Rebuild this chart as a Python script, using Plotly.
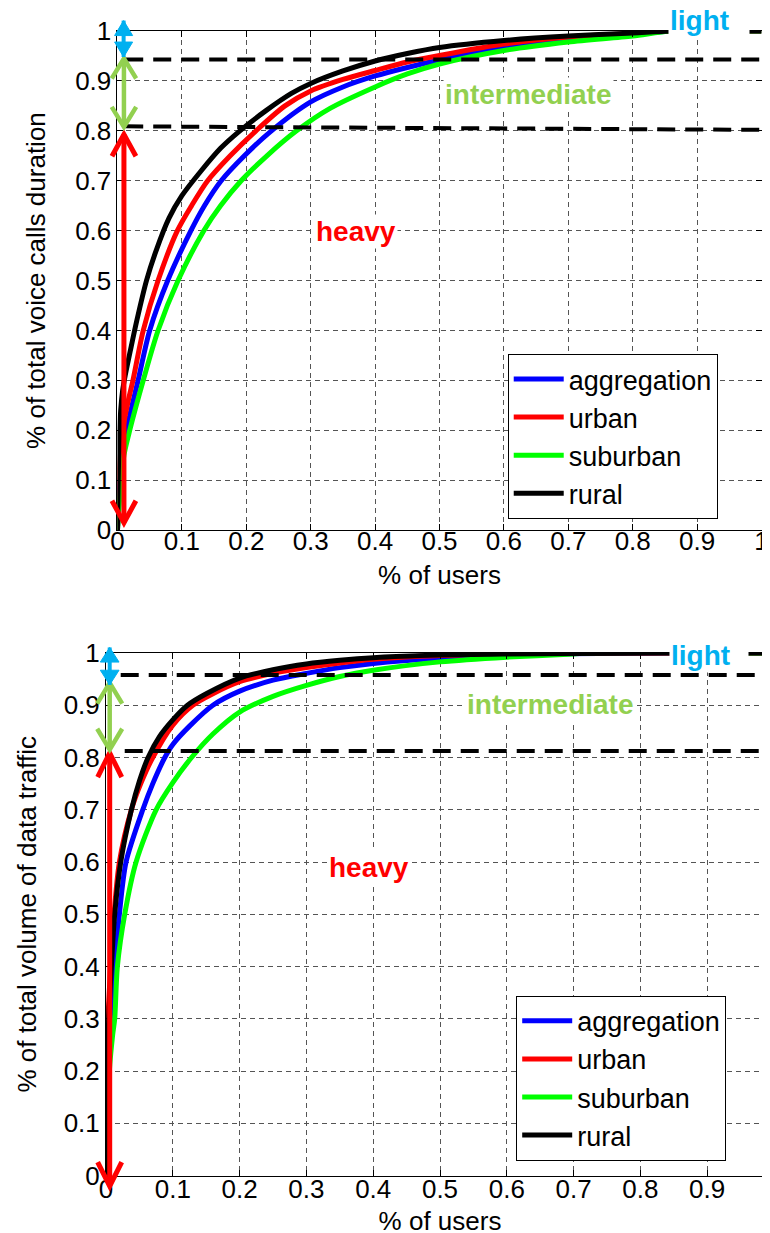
import plotly.graph_objects as go

# ---------------- data ----------------
series_names = ["aggregation", "urban", "suburban", "rural"]
series_colors = ["#0000FF", "#FF0000", "#00FF00", "#000000"]

# top panel: voice call duration (x = share of users, y = share of total duration)
voice_agg_x = [0, 0.004, 0.01, 0.02, 0.032, 0.05, 0.078, 0.114, 0.135, 0.161, 0.197, 0.239, 0.3, 0.35, 0.4, 0.45, 0.5, 0.6, 0.7, 0.8, 0.86, 1.0]
voice_agg_y = [0, 0.1, 0.17, 0.235, 0.3, 0.4, 0.5, 0.6, 0.65, 0.7, 0.75, 0.8, 0.858, 0.888, 0.91, 0.927, 0.942, 0.967, 0.983, 0.993, 1.0, 1.0]
voice_urb_x = [0, 0.003, 0.008, 0.016, 0.024, 0.04, 0.063, 0.093, 0.115, 0.14, 0.175, 0.215, 0.26, 0.3, 0.35, 0.4, 0.45, 0.5, 0.6, 0.7, 0.8, 0.86, 1.0]
voice_urb_y = [0, 0.12, 0.2, 0.255, 0.3, 0.4, 0.5, 0.6, 0.65, 0.7, 0.75, 0.8, 0.85, 0.88, 0.903, 0.921, 0.938, 0.951, 0.974, 0.988, 0.995, 1.0, 1.0]
voice_sub_x = [0, 0.005, 0.01, 0.019, 0.04, 0.063, 0.094, 0.134, 0.16, 0.192, 0.232, 0.278, 0.33, 0.4, 0.45, 0.5, 0.6, 0.7, 0.8, 0.86, 1.0]
voice_sub_y = [0, 0.09, 0.15, 0.2, 0.3, 0.4, 0.5, 0.6, 0.65, 0.7, 0.75, 0.8, 0.845, 0.888, 0.914, 0.934, 0.961, 0.978, 0.99, 1.0, 1.0]
voice_rur_x = [0, 0.002, 0.005, 0.008, 0.012, 0.02, 0.03, 0.045, 0.06, 0.08, 0.1, 0.13, 0.16, 0.19, 0.23, 0.27, 0.3, 0.35, 0.4, 0.45, 0.5, 0.6, 0.7, 0.8, 0.86, 1.0]
voice_rur_y = [0, 0.15, 0.24, 0.28, 0.31, 0.36, 0.42, 0.5, 0.56, 0.625, 0.67, 0.72, 0.765, 0.8, 0.84, 0.875, 0.895, 0.92, 0.94, 0.955, 0.967, 0.981, 0.99, 0.996, 1.0, 1.0]

# bottom panel: data traffic volume
data_agg_x = [0, 0.004, 0.008, 0.013, 0.02, 0.03, 0.055, 0.07, 0.088, 0.1, 0.125, 0.16, 0.2, 0.25, 0.3, 0.35, 0.4, 0.5, 0.6, 0.8, 1.0]
data_agg_y = [0, 0.25, 0.33, 0.4, 0.5, 0.6, 0.7, 0.75, 0.8, 0.825, 0.86, 0.9, 0.927, 0.948, 0.961, 0.972, 0.98, 0.99, 0.996, 1.0, 1.0]
data_urb_x = [0, 0.003, 0.007, 0.012, 0.02, 0.038, 0.052, 0.07, 0.1, 0.13, 0.16, 0.2, 0.25, 0.3, 0.35, 0.4, 0.5, 0.6, 0.78, 1.0]
data_urb_y = [0, 0.3, 0.4, 0.5, 0.6, 0.7, 0.75, 0.8, 0.862, 0.9, 0.922, 0.945, 0.961, 0.972, 0.981, 0.988, 0.995, 0.998, 1.0, 1.0]
data_sub_x = [0, 0.005, 0.01, 0.013, 0.017, 0.028, 0.045, 0.075, 0.1, 0.128, 0.16, 0.2, 0.25, 0.3, 0.35, 0.4, 0.5, 0.6, 0.7, 0.72, 1.0]
data_sub_y = [0, 0.2, 0.27, 0.3, 0.4, 0.5, 0.6, 0.7, 0.752, 0.8, 0.845, 0.887, 0.917, 0.938, 0.955, 0.967, 0.983, 0.992, 0.998, 1.0, 1.0]
data_rur_x = [0, 0.002, 0.004, 0.008, 0.013, 0.022, 0.038, 0.05, 0.063, 0.08, 0.1, 0.122, 0.15, 0.2, 0.25, 0.3, 0.35, 0.4, 0.5, 0.6, 0.7, 0.85, 1.0]
data_rur_y = [0, 0.2, 0.3, 0.4, 0.5, 0.6, 0.7, 0.755, 0.8, 0.84, 0.872, 0.9, 0.922, 0.952, 0.968, 0.979, 0.986, 0.991, 0.996, 0.998, 0.999, 1.0, 1.0]

tick_vals = [0, 0.1, 0.2, 0.3, 0.4, 0.5, 0.6, 0.7, 0.8, 0.9, 1.0]
tick_text = ["0", "0.1", "0.2", "0.3", "0.4", "0.5", "0.6", "0.7", "0.8", "0.9", "1"]

# class thresholds (share of total) for each panel
voice_thresholds = [0.943, 0.805]
data_thresholds = [0.958, 0.8126]

LIGHT_C, INTER_C, HEAVY_C = "#00B0F0", "#92D050", "#FF0000"
FONT = "Liberation Sans"

fig = go.Figure()

top_sets = [(voice_agg_x, voice_agg_y), (voice_urb_x, voice_urb_y),
            (voice_sub_x, voice_sub_y), (voice_rur_x, voice_rur_y)]
bot_sets = [(data_agg_x, data_agg_y), (data_urb_x, data_urb_y),
            (data_sub_x, data_sub_y), (data_rur_x, data_rur_y)]

for (xs, ys), name, col in zip(top_sets, series_names, series_colors):
    fig.add_trace(go.Scatter(x=xs, y=ys, mode="lines", name=name,
                             line=dict(color=col, width=5, shape="spline", smoothing=0.8),
                             xaxis="x", yaxis="y", legend="legend"))
for (xs, ys), name, col in zip(bot_sets, series_names, series_colors):
    fig.add_trace(go.Scatter(x=xs, y=ys, mode="lines", name=name,
                             line=dict(color=col, width=5, shape="spline", smoothing=0.8),
                             xaxis="x2", yaxis="y2", legend="legend2"))

axis_common = dict(range=[0, 1], tickvals=tick_vals, ticktext=tick_text,
                   ticks="inside", ticklen=6, tickcolor="black",
                   showline=True, linecolor="black", linewidth=1, mirror="ticks",
                   showgrid=True, gridcolor="#555555", gridwidth=1, griddash="5px,4px",
                   zeroline=False, tickfont=dict(size=26, color="black", family=FONT),
                   ticklabeloverflow="allow",
                   automargin=False, fixedrange=True)

fig.update_layout(
    width=770, height=1233, autosize=False,
    margin=dict(l=0, r=0, t=0, b=0),
    paper_bgcolor="white", plot_bgcolor="white",
    font=dict(family=FONT, size=26, color="black"),
    showlegend=True,
    xaxis=dict(domain=[0.1422, 0.9786], anchor="y", ticklabelstandoff=-12,
               title=dict(text="% of users", standoff=10, font=dict(size=26)), **axis_common),
    yaxis=dict(domain=[0.5766, 0.9813], anchor="x",
               title=dict(text="% of total voice calls duration", standoff=22, font=dict(size=26)), **axis_common),
    xaxis2=dict(domain=[0.1273, 0.9948], anchor="y2", ticklabelstandoff=-10,
                title=dict(text="% of users", standoff=8, font=dict(size=26)), **axis_common),
    yaxis2=dict(domain=[0.0530, 0.4769], anchor="x2",
                title=dict(text="% of total volume of data traffic", standoff=19, font=dict(size=26)), **axis_common),
    legend=dict(x=0.649, y=0.6525, xanchor="left", yanchor="middle",
                bordercolor="black", borderwidth=1, bgcolor="white",
                font=dict(size=27, family=FONT), itemwidth=50, tracegroupgap=0),
    legend2=dict(x=0.66, y=0.132, xanchor="left", yanchor="middle",
                 bordercolor="black", borderwidth=1, bgcolor="white",
                 font=dict(size=27, family=FONT), itemwidth=50, tracegroupgap=0),
)

shapes = []

def hline(xr, yr, x0, x1, y0, y1):
    shapes.append(dict(type="line", xref=xr, yref=yr, x0=x0, x1=x1, y0=y0, y1=y1,
                       line=dict(color="black", width=4, dash="18px,10px"), layer="above"))

def chevron_arrow(xr, yr, x, y_top, y_bot, dx, dy, color, width):
    shapes.append(dict(type="line", xref=xr, yref=yr, x0=x, x1=x, y0=y_bot, y1=y_top,
                       line=dict(color=color, width=width), layer="above"))
    shapes.append(dict(type="path", xref=xr, yref=yr,
                       path=f"M{x-dx},{y_top-dy} L{x},{y_top} L{x+dx},{y_top-dy}",
                       line=dict(color=color, width=width), layer="above"))
    shapes.append(dict(type="path", xref=xr, yref=yr,
                       path=f"M{x-dx},{y_bot+dy} L{x},{y_bot} L{x+dx},{y_bot+dy}",
                       line=dict(color=color, width=width), layer="above"))

def filled_arrow(xr, yr, x, y_top, y_bot, dx, dy, color, width):
    shapes.append(dict(type="line", xref=xr, yref=yr, x0=x, x1=x, y0=y_bot, y1=y_top,
                       line=dict(color=color, width=width), layer="above"))
    shapes.append(dict(type="path", xref=xr, yref=yr,
                       path=f"M{x},{y_top} L{x-dx},{y_top-dy} L{x+dx},{y_top-dy} Z",
                       fillcolor=color, line=dict(color=color, width=1), layer="above"))
    shapes.append(dict(type="path", xref=xr, yref=yr,
                       path=f"M{x},{y_bot} L{x-dx},{y_bot+dy} L{x+dx},{y_bot+dy} Z",
                       fillcolor=color, line=dict(color=color, width=1), layer="above"))

# top panel
XT, YT = "x domain", "y domain"
hline(XT, YT, 0.012, 1.017, voice_thresholds[0], voice_thresholds[0])
hline(XT, YT, 0.012, 1.0, voice_thresholds[1] + 0.004, voice_thresholds[1] - 0.003)
chevron_arrow(XT, YT, 0.010, 0.793, 0.0146, 0.0186, 0.044, HEAVY_C, 5)
chevron_arrow(XT, YT, 0.010, 0.945, 0.808, 0.019, 0.04, INTER_C, 4.5)
filled_arrow(XT, YT, 0.0095, 1.021, 0.948, 0.014, 0.03, LIGHT_C, 4)

# bottom panel
XB, YB = "x2 domain", "y2 domain"
hline(XB, YB, 0.022, 0.998, data_thresholds[0], data_thresholds[0])
hline(XB, YB, 0.028, 0.998, data_thresholds[1], data_thresholds[1])
chevron_arrow(XB, YB, 0.0055, 0.8087, -0.02, 0.018, 0.046, HEAVY_C, 5)
chevron_arrow(XB, YB, 0.0055, 0.943, 0.815, 0.0187, 0.04, INTER_C, 4.5)
filled_arrow(XB, YB, 0.0055, 1.0106, 0.939, 0.014, 0.028, LIGHT_C, 4)

fig.update_layout(shapes=shapes)

def label(text, x, y, color, xr, yr, width=None):
    d = dict(text=text, x=x, y=y, xref=xr, yref=yr, showarrow=False,
             font=dict(family=FONT, size=28, color=color, weight="bold"),
             bgcolor="white", borderpad=1, xanchor="center", yanchor="middle")
    if width:
        d["width"] = width
        d["align"] = "left"
    fig.add_annotation(**d)

label("light", 0.918, 1.021, LIGHT_C, XT, YT, width=78)
label("intermediate", 0.638, 0.872, INTER_C, XT, YT)
label("heavy", 0.371, 0.598, HEAVY_C, XT, YT)
label("light", 0.903, 0.995, LIGHT_C, XB, YB, width=76)
label("intermediate", 0.665, 0.902, INTER_C, XB, YB)
label("heavy", 0.394, 0.59, HEAVY_C, XB, YB)

fig.write_html("out.html")
